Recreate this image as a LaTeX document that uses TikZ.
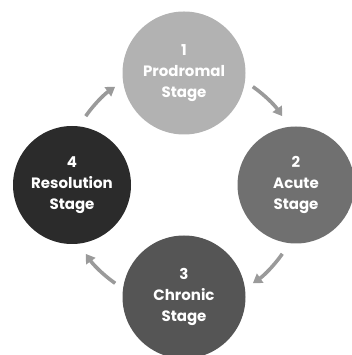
\documentclass[tikz,border=0pt]{standalone}
\usepackage{fontspec}
\setmainfont{Poppins}
\usetikzlibrary{arrows.meta}
%
\definecolor{stageone}{HTML}{B2B2B2}
\definecolor{stagetwo}{HTML}{707070}
\definecolor{stagethree}{HTML}{555555}
\definecolor{stagefour}{HTML}{2B2B2B}
\definecolor{cyclearrow}{HTML}{9A9A9A}
%
\newcommand{\stagedist}{112}
\newcommand{\arrowradius}{120}
%
\tikzset{
	stagecircle/.style={circle, minimum size=121pt, inner sep=0pt,
		text=white, align=center, font=\bfseries\fontsize{15}{21}\selectfont},
	cyclearrowline/.style={draw=cyclearrow, line width=3.6pt,
		-{Triangle[length=9pt,width=11pt]}}
}
%
\begin{document}
\begin{tikzpicture}[
	x=1pt, y=1pt,
	auto
]
\useasboundingbox (0,0) rectangle (351,355);
%
\coordinate(c_center) at (184,170);%
%
\node(s_prodromal)%
    [stagecircle, fill=stageone, minimum size=123pt]%
    at ([yshift=\stagedist]c_center)%
    {1\\Prodromal\\Stage};%
%
\node(s_acute)%
    [stagecircle, fill=stagetwo, minimum size=117pt]%
    at ([xshift=\stagedist]c_center)%
    {2\\Acute\\Stage};%
%
\node(s_chronic)%
    [stagecircle, fill=stagethree, minimum size=123pt]%
    at ([yshift=-\stagedist]c_center)%
    {3\\Chronic\\Stage};%
%
\node(s_resolution)%
    [stagecircle, fill=stagefour, minimum size=118pt]%
    at ([xshift=-\stagedist]c_center)%
    {4\\Resolution\\Stage};%
%
% Pfeile im Uhrzeigersinn
\foreach \a in {145,55,-35,-125}{%
    \draw[cyclearrowline] (c_center) ++(\a:\arrowradius)
        arc[start angle=\a, end angle=\a-20, radius=\arrowradius];%
}
%
\end{tikzpicture}
\end{document}
